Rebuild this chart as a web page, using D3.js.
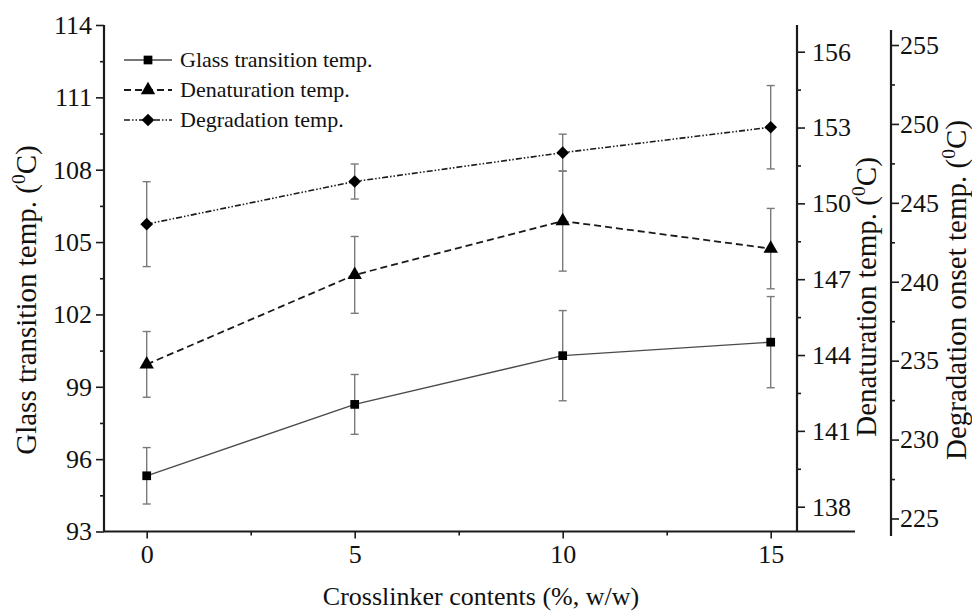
<!DOCTYPE html>
<html>
<head>
<meta charset="utf-8">
<script src="https://cdn.jsdelivr.net/npm/d3@7"></script>
<style>
  body { margin: 0; background: #fff; }
  svg { display: block; }
  svg text { font-family: "Liberation Serif", Tinos, "Times New Roman", Times, "DejaVu Serif", serif; }
</style>
</head>
<body>
<div id="chart"></div>
<script>
// values
const crosslinker = [0, 5, 10, 15];
const glassTemp = [95.31, 98.27, 100.29, 100.85];
const glassErr = [1.17, 1.24, 1.87, 1.89];
const denatTemp = [143.63, 147.17, 149.30, 148.21];
const denatErr = [1.30, 1.52, 1.98, 1.59];
const degradTemp = [243.65, 246.35, 248.18, 249.79];
const degradErr = [2.69, 1.11, 1.17, 2.64];

const xTicks = [0, 5, 10, 15];
const xMinor = [2.5, 7.5, 12.5];
const leftTicks = [93, 96, 99, 102, 105, 108, 111, 114];
const denatTicks = [138, 141, 144, 147, 150, 153, 156];
const degradTicks = [225, 230, 235, 240, 245, 250, 255];

const legendNames = ["Glass transition temp.", "Denaturation temp.", "Degradation temp."];

const svg = d3.select("#chart").append("svg").attr("width", 972).attr("height", 614);

const x = d3.scaleLinear().domain([0, 15]).range([146.7, 770.7]);
const yLeft = d3.scaleLinear().domain([93, 114]).range([531.5, 25]);
const yDenat = d3.scaleLinear().domain([138, 156]).range([506.7, 51.7]);
const yDegrad = d3.scaleLinear().domain([225, 255]).range([518.5, 45]);

const axisColor = "#1a1a1a";
const frameLeft = 104, frameBottom = 531.5, frameRight = 855;
const denatX = 797, degradX = 891;

function minorOf(ticks, step) {
    return ticks.slice(0, -1).map(t => t + step / 2);
}

function styleAxis(g) {
    g.attr("font-family", null);
    g.select(".domain").remove();
    g.selectAll(".tick line").attr("stroke", axisColor).attr("stroke-width", 1.6);
    g.selectAll(".tick text")
        .attr("fill", "#111")
        .attr("font-size", 26);
}

// bottom axis
svg.append("line")
    .attr("x1", frameLeft).attr("x2", frameRight)
    .attr("y1", frameBottom).attr("y2", frameBottom)
    .attr("stroke", axisColor).attr("stroke-width", 2.2);

svg.append("g")
    .attr("transform", `translate(0,${frameBottom})`)
    .call(d3.axisBottom(x).tickValues(xTicks).tickSize(7).tickPadding(6).tickFormat(d3.format("d")))
    .call(styleAxis);

svg.append("g")
    .attr("transform", `translate(0,${frameBottom})`)
    .call(d3.axisBottom(x).tickValues(xMinor).tickSize(4).tickFormat(""))
    .call(styleAxis);

// left axis
svg.append("line")
    .attr("x1", frameLeft).attr("x2", frameLeft)
    .attr("y1", 25).attr("y2", frameBottom)
    .attr("stroke", axisColor).attr("stroke-width", 2.2);

svg.append("g")
    .attr("transform", `translate(${frameLeft},0)`)
    .call(d3.axisLeft(yLeft).tickValues(leftTicks).tickSize(8).tickPadding(4))
    .call(styleAxis);

svg.append("g")
    .attr("transform", `translate(${frameLeft},0)`)
    .call(d3.axisLeft(yLeft).tickValues(minorOf(leftTicks, 3)).tickSize(4).tickFormat(""))
    .call(styleAxis);

// denaturation axis
svg.append("line")
    .attr("x1", denatX).attr("x2", denatX)
    .attr("y1", 25).attr("y2", frameBottom)
    .attr("stroke", axisColor).attr("stroke-width", 2.2);

svg.append("g")
    .attr("transform", `translate(${denatX},0)`)
    .call(d3.axisRight(yDenat).tickValues(denatTicks).tickSize(8).tickPadding(7))
    .call(styleAxis);

svg.append("g")
    .attr("transform", `translate(${denatX},0)`)
    .call(d3.axisRight(yDenat).tickValues(minorOf(denatTicks, 3)).tickSize(4).tickFormat(""))
    .call(styleAxis);

// degradation axis
svg.append("line")
    .attr("x1", degradX).attr("x2", degradX)
    .attr("y1", 30).attr("y2", 536)
    .attr("stroke", axisColor).attr("stroke-width", 2.2);

svg.append("g")
    .attr("transform", `translate(${degradX},0)`)
    .call(d3.axisRight(yDegrad).tickValues(degradTicks).tickSize(8).tickPadding(1))
    .call(styleAxis);

svg.append("g")
    .attr("transform", `translate(${degradX},0)`)
    .call(d3.axisRight(yDegrad).tickValues(minorOf(degradTicks, 5)).tickSize(4).tickFormat(""))
    .call(styleAxis);

// axis titles
function titleWithSup(sel, label) {
    sel.append("tspan").text(label + " (");
    sel.append("tspan").attr("font-size", "0.68em").attr("dy", -11).text("0");
    sel.append("tspan").attr("dy", 11).text("C)");
}

svg.append("text")
    .attr("text-anchor", "middle")
    .attr("x", 481).attr("y", 605)
    .attr("font-size", 26).attr("fill", "#111")
    .text("Crosslinker contents (%, w/w)");

svg.append("text")
    .attr("text-anchor", "middle")
    .attr("transform", "translate(36,300) rotate(-90)")
    .attr("font-size", 29).attr("fill", "#111")
    .call(titleWithSup, "Glass transition temp.");

svg.append("text")
    .attr("text-anchor", "middle")
    .attr("transform", "translate(876,297) rotate(-90)")
    .attr("font-size", 29).attr("fill", "#111")
    .call(titleWithSup, "Denaturation temp.");

svg.append("text")
    .attr("text-anchor", "middle")
    .attr("transform", "translate(966,290) rotate(-90)")
    .attr("font-size", 29).attr("fill", "#111")
    .call(titleWithSup, "Degradation onset temp.");

// series
const series = [
    { name: legendNames[0], vals: glassTemp, errs: glassErr, y: yLeft, dash: null, width: 1.3, color: "#4a4a4a", shape: d3.symbolSquare, size: 76, rot: 0 },
    { name: legendNames[1], vals: denatTemp, errs: denatErr, y: yDenat, dash: "7,4", width: 1.8, color: "#1a1a1a", shape: d3.symbolTriangle, size: 90, rot: 0 },
    { name: legendNames[2], vals: degradTemp, errs: degradErr, y: yDegrad, dash: "6,2,1.5,2,1.5,2", width: 1.6, color: "#1a1a1a", shape: d3.symbolSquare, size: 80, rot: 45 }
];

series.forEach(s => {
    const pts = crosslinker.map((c, i) => ({ c: c, v: s.vals[i], e: s.errs[i] }));

    const eb = svg.append("g").attr("stroke", "#7a7a7a").attr("stroke-width", 1.4);
    pts.forEach(p => {
        const top = s.y(p.v + p.e), bot = s.y(p.v - p.e), cx = x(p.c);
        eb.append("line").attr("x1", cx).attr("x2", cx).attr("y1", top).attr("y2", bot);
        eb.append("line").attr("x1", cx - 4).attr("x2", cx + 4).attr("y1", top).attr("y2", top);
        eb.append("line").attr("x1", cx - 4).attr("x2", cx + 4).attr("y1", bot).attr("y2", bot);
    });

    svg.append("path")
        .datum(pts)
        .attr("fill", "none")
        .attr("stroke", s.color)
        .attr("stroke-width", s.width)
        .attr("stroke-dasharray", s.dash)
        .attr("d", d3.line().x(d => x(d.c)).y(d => s.y(d.v)));

    svg.selectAll(null)
        .data(pts)
        .enter().append("path")
        .attr("transform", d => `translate(${x(d.c)},${s.y(d.v)}) rotate(${s.rot})`)
        .attr("d", d3.symbol().type(s.shape).size(s.size))
        .attr("fill", "#000");
});

// legend
const legend = svg.append("g");
series.forEach((s, i) => {
    const ly = 60 + i * 30;
    legend.append("line")
        .attr("x1", 124).attr("x2", 172).attr("y1", ly).attr("y2", ly)
        .attr("stroke", s.color).attr("stroke-width", s.width)
        .attr("stroke-dasharray", s.dash);
    legend.append("path")
        .attr("transform", `translate(148,${ly}) rotate(${s.rot})`)
        .attr("d", d3.symbol().type(s.shape).size(s.size))
        .attr("fill", "#000");
    legend.append("text")
        .attr("x", 180).attr("y", ly + 7)
        .attr("font-size", 22).attr("fill", "#111")
        .text(s.name);
});
</script>
</body>
</html>
